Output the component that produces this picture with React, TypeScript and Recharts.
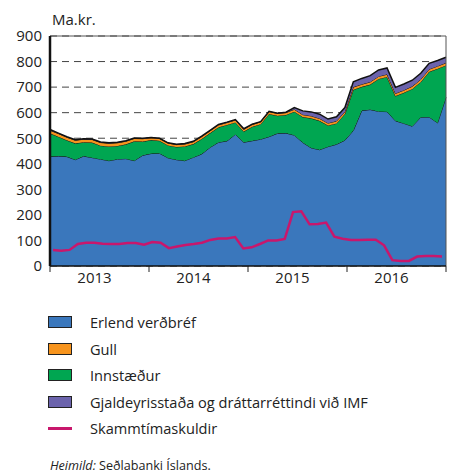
import React from 'react';
import { ComposedChart, Area, Line, XAxis, YAxis, CartesianGrid, ReferenceLine } from 'recharts';

const months = [
  '2013-01','2013-02','2013-03','2013-04','2013-05','2013-06','2013-07','2013-08','2013-09','2013-10','2013-11','2013-12',
  '2014-01','2014-02','2014-03','2014-04','2014-05','2014-06','2014-07','2014-08','2014-09','2014-10','2014-11','2014-12',
  '2015-01','2015-02','2015-03','2015-04','2015-05','2015-06','2015-07','2015-08','2015-09','2015-10','2015-11','2015-12',
  '2016-01','2016-02','2016-03','2016-04','2016-05','2016-06','2016-07','2016-08','2016-09','2016-10','2016-11','2016-12',
];

const erlendVerdbref = [
  428, 430, 428, 416, 430, 424, 418, 412, 418, 420, 412, 433,
  440, 441, 423, 416, 412, 425, 438, 464, 484, 489, 515, 484,
  490, 496, 506, 519, 520, 512, 483, 462, 455, 467, 476, 492,
  530, 608, 612, 605, 604, 568, 558, 547, 582, 583, 560, 660,
];

const innstaedur = [
  91, 76, 64, 64, 54, 59, 53, 56, 52, 56, 76, 54,
  53, 49, 49, 50, 56, 52, 59, 56, 59, 63, 47, 42,
  55, 59, 89, 69, 71, 92, 100, 116, 113, 83, 82, 103,
  160, 93, 98, 127, 136, 97, 120, 146, 138, 177, 212, 125,
];

const gull = [
  12, 12, 12, 12, 12, 12, 12, 12, 12, 12, 11, 11,
  9, 9, 9, 9, 9, 9, 9, 9, 9, 9, 9, 9,
  9, 9, 9, 9, 9, 9, 9, 9, 9, 9, 9, 9,
  10, 10, 10, 10, 10, 10, 10, 10, 10, 10, 10, 10,
];

const gjaldeyrisstada = [
  3, 2, 2, 2, 2, 2, 2, 2, 2, 2, 2, 2,
  1, 1, 1, 1, 2, 2, 2, 2, 2, 2, 2, 2,
  1, 1, 1, 1, 2, 7, 15, 16, 17, 16, 17, 16,
  21, 23, 25, 25, 25, 24, 24, 24, 24, 23, 22, 22,
];

const skammtimaskuldir = [
  63, 60, 63, 86, 91, 91, 87, 86, 86, 90, 90, 83,
  94, 91, 70, 76, 82, 86, 91, 102, 108, 108, 113, 69,
  73, 86, 100, 100, 106, 211, 214, 163, 164, 170, 115, 107,
  102, 102, 103, 103, 81, 23, 20, 20, 37, 39, 39, 37,
];

const yearLabels = ['2013', '2014', '2015', '2016'];
const yTicks = [0, 100, 200, 300, 400, 500, 600, 700, 800, 900];

const data = months.map((m, i) => ({
  idx: i,
  month: m,
  erlend: erlendVerdbref[i],
  innst: innstaedur[i],
  gull: gull[i],
  gjald: gjaldeyrisstada[i],
  skuld: skammtimaskuldir[i],
}));

const C_BLUE = '#3a77bc';
const C_ORANGE = '#f7941d';
const C_GREEN = '#00a651';
const C_PURPLE = '#6b63ac';
const C_MAGENTA = '#c8176c';

const FONT = '"Open Sans", "Noto Sans", sans-serif';

const xTickPositions = [0, 11.75, 23.5, 35.25, 47];

const XTick = (props: any) => {
  const { x, y, index } = props;
  if (index >= yearLabels.length) return <g />;
  return (
    <text x={x + 44.5} y={y + 9} textAnchor="middle" fontSize={15} fill="#222" fontFamily={FONT}>
      {yearLabels[index]}
    </text>
  );
};

const legendItems = [
  { label: 'Erlend verðbréf', color: C_BLUE, type: 'box' },
  { label: 'Gull', color: C_ORANGE, type: 'box' },
  { label: 'Innstæður', color: C_GREEN, type: 'box' },
  { label: 'Gjaldeyrisstaða og dráttarréttindi við IMF', color: C_PURPLE, type: 'box' },
  { label: 'Skammtímaskuldir', color: C_MAGENTA, type: 'line' },
];

export default function App() {
  return (
    <div style={{ position: 'absolute', left: 0, top: 0, width: 449, height: 473, background: '#fff', fontFamily: FONT, overflow: 'hidden' }}>
      <div style={{ position: 'absolute', left: 52, top: 10, fontSize: 15, color: '#222', lineHeight: '18px' }}>Ma.kr.</div>
      <div style={{ position: 'absolute', left: 0, top: 0 }}>
        <ComposedChart width={449} height={300} data={data} margin={{ top: 36, right: 3, left: 0, bottom: 4 }}>
          <CartesianGrid vertical={false} stroke="#444" strokeDasharray="7 5" />
          <XAxis
            xAxisId="a"
            dataKey="idx"
            type="number"
            domain={[0, 47]}
            ticks={xTickPositions}
            interval={0}
            height={30}
            tick={<XTick />}
            tickSize={6}
            tickLine={{ stroke: '#222', strokeWidth: 1 }}
            axisLine={{ stroke: '#111', strokeWidth: 1.5 }}
            allowDecimals
          />
          <XAxis xAxisId="l" dataKey="idx" type="number" domain={[0, 47]} hide padding={{ left: 3, right: 4 }} />
          <YAxis
            width={50}
            domain={[0, 900]}
            ticks={yTicks}
            interval={0}
            tickLine={false}
            axisLine={{ stroke: '#111', strokeWidth: 2.5 }}
            tick={{ fontSize: 15, fill: '#222', fontFamily: FONT }}
          />
          <Area xAxisId="a" type="linear" dataKey="erlend" stackId="s" fill={C_BLUE} fillOpacity={1} stroke="#111" strokeWidth={1} isAnimationActive={false} />
          <Area xAxisId="a" type="linear" dataKey="innst" stackId="s" fill={C_GREEN} fillOpacity={1} stroke="#111" strokeWidth={1} isAnimationActive={false} />
          <Area xAxisId="a" type="linear" dataKey="gull" stackId="s" fill={C_ORANGE} fillOpacity={1} stroke="#111" strokeWidth={1} isAnimationActive={false} />
          <Area xAxisId="a" type="linear" dataKey="gjald" stackId="s" fill={C_PURPLE} fillOpacity={1} stroke="#111" strokeWidth={1.5} isAnimationActive={false} />
          <Line xAxisId="l" type="linear" dataKey="skuld" stroke={C_MAGENTA} strokeWidth={2.5} dot={false} isAnimationActive={false} />
          <ReferenceLine xAxisId="a" y={900} stroke="#555" strokeWidth={1} />
          <ReferenceLine xAxisId="a" x={47} stroke="#555" strokeWidth={1} />
        </ComposedChart>
      </div>
      <div style={{ position: 'absolute', left: 48, top: 309 }}>
        {legendItems.map((it) => (
          <div key={it.label} style={{ display: 'flex', alignItems: 'center', height: 26.5 }}>
            {it.type === 'box' ? (
              <div style={{ width: 22, height: 10, background: it.color, border: '1px solid #222' }} />
            ) : (
              <div style={{ width: 24, height: 3, background: it.color }} />
            )}
            <span style={{ marginLeft: 18, fontSize: 14.6, color: '#222' }}>{it.label}</span>
          </div>
        ))}
      </div>
      <div style={{ position: 'absolute', left: 50, top: 459, fontSize: 12.6, lineHeight: '14px', color: '#222', whiteSpace: 'nowrap' }}>
        <i>Heimild:</i> Seðlabanki Íslands.
      </div>
    </div>
  );
}
